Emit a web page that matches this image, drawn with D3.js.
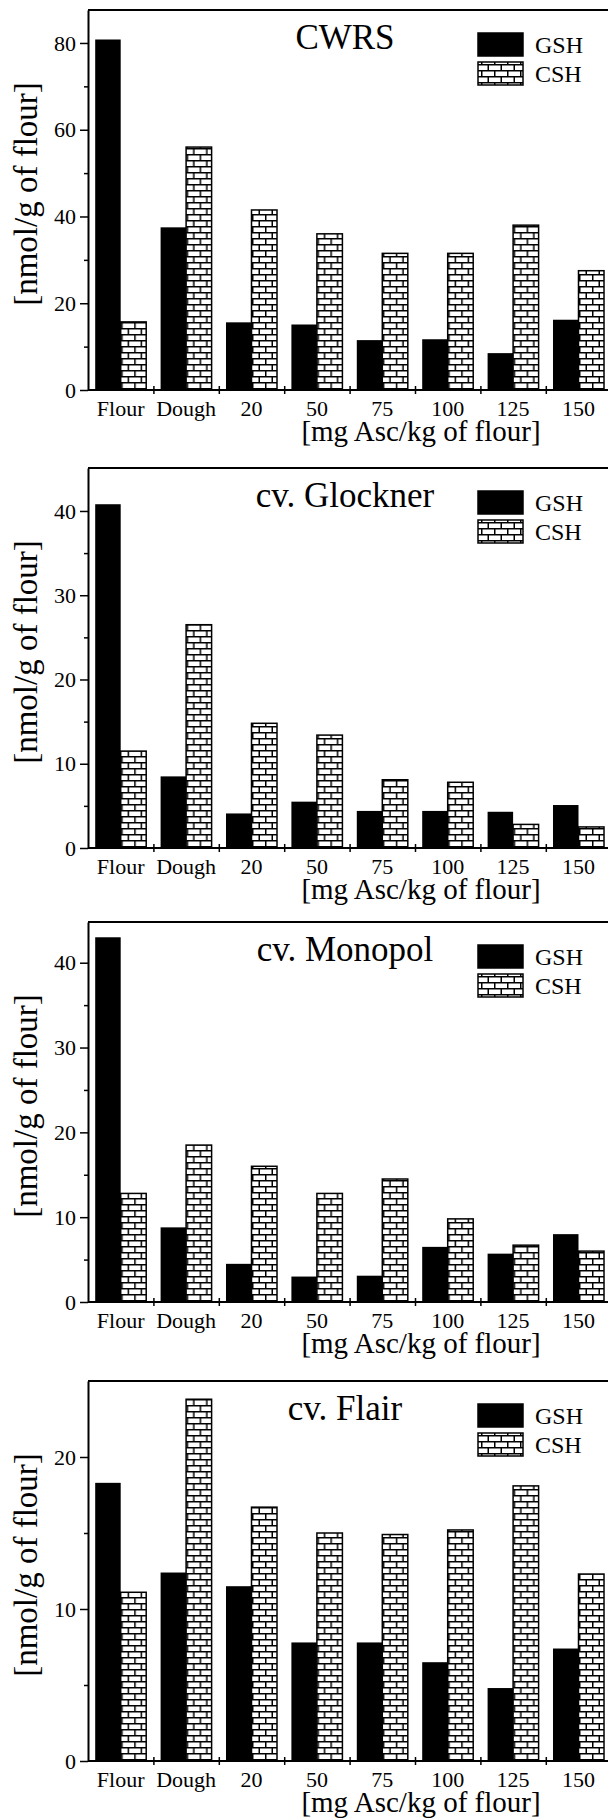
<!DOCTYPE html>
<html>
<head>
<meta charset="utf-8">
<script src="https://cdnjs.cloudflare.com/ajax/libs/d3/7.8.5/d3.min.js"></script>
<style>
  body { margin: 0; background: #fff; }
  svg text { font-family: "Liberation Serif", "Times New Roman", serif; fill: #000; }
</style>
</head>
<body>
<div id="chart"></div>
<script>
// Data
var categories = ["Flour", "Dough", "20", "50", "75", "100", "125", "150"];
var series = ["GSH", "CSH"];
var panelTitles = ["CWRS", "cv. Glockner", "cv. Monopol", "cv. Flair"];

var gshCWRS = [80.8, 37.5, 15.6, 15.1, 11.5, 11.7, 8.5, 16.2];
var cshCWRS = [15.7, 56.0, 41.5, 36.0, 31.5, 31.5, 38.0, 27.5];
var gshGlockner = [40.8, 8.5, 4.1, 5.5, 4.4, 4.4, 4.3, 5.1];
var cshGlockner = [11.5, 26.5, 14.8, 13.4, 8.1, 7.8, 2.8, 2.5];
var gshMonopol = [43.0, 8.8, 4.5, 3.0, 3.1, 6.5, 5.7, 8.0];
var cshMonopol = [12.8, 18.5, 16.0, 12.8, 14.5, 9.8, 6.7, 6.0];
var gshFlair = [18.3, 12.4, 11.5, 7.8, 7.8, 6.5, 4.8, 7.4];
var cshFlair = [11.1, 23.8, 16.7, 15.0, 14.9, 15.2, 18.1, 12.3];

var yMax = [87.6, 45.1, 44.8, 25];
var yMajor = [[0, 20, 40, 60, 80], [0, 10, 20, 30, 40], [0, 10, 20, 30, 40], [0, 10, 20]];
var yMinor = [[10, 30, 50, 70], [5, 15, 25, 35], [5, 15, 25, 35], [5, 15]];

var gshAll = [gshCWRS, gshGlockner, gshMonopol, gshFlair];
var cshAll = [cshCWRS, cshGlockner, cshMonopol, cshFlair];

// Layout
var svgWidth = 608, svgHeight = 1818;
var panelTop = [10, 468, 922, 1381];
var plotHeight = 380;
var xLeft = 88, xRight = 611.2;
var serif = "'Liberation Serif', 'Times New Roman', serif";

var svg = d3.select("#chart").append("svg")
    .attr("width", svgWidth)
    .attr("height", svgHeight);

svg.append("rect").attr("width", svgWidth).attr("height", svgHeight).attr("fill", "#fff");

// brick pattern for CSH
var pat = svg.append("defs").append("pattern")
    .attr("id", "brick")
    .attr("patternUnits", "userSpaceOnUse")
    .attr("width", 13)
    .attr("height", 12);
pat.append("rect").attr("width", 13).attr("height", 12).attr("fill", "#fff");
pat.append("line").attr("x1", 0).attr("x2", 13).attr("y1", 0.75).attr("y2", 0.75);
pat.append("line").attr("x1", 0).attr("x2", 13).attr("y1", 6.75).attr("y2", 6.75);
pat.append("line").attr("x1", 0.75).attr("x2", 0.75).attr("y1", 0).attr("y2", 6);
pat.append("line").attr("x1", 7.25).attr("x2", 7.25).attr("y1", 6).attr("y2", 12);
pat.selectAll("line").attr("stroke", "#000").attr("stroke-width", 1.5);

var x0 = d3.scaleBand().domain(categories).range([xLeft, xRight]).paddingInner(0.22).paddingOuter(0.11);
var x1 = d3.scaleBand().domain(series).range([0, x0.bandwidth()]);
var xEdge = d3.scaleLinear().domain([0, categories.length]).range([xLeft, xRight]);

panelTitles.forEach(function (title, i) {
    var g = svg.append("g").attr("transform", `translate(0, ${panelTop[i]})`);

    var y = d3.scaleLinear().domain([0, yMax[i]]).range([plotHeight, 0]);

    var rows = categories.map(function (c, j) {
        return { cat: c, values: [gshAll[i][j], cshAll[i][j]] };
    });

    // Bars
    var groups = g.selectAll(".grp")
        .data(rows)
        .enter()
        .append("g")
        .attr("transform", d => `translate(${x0(d.cat)}, 0)`);

    groups.selectAll("rect")
        .data(d => d.values.map((v, k) => ({ key: series[k], value: v })))
        .enter()
        .append("rect")
        .attr("x", d => x1(d.key))
        .attr("y", d => y(d.value))
        .attr("width", x1.bandwidth())
        .attr("height", d => plotHeight - y(d.value))
        .attr("fill", d => d.key === "GSH" ? "#000" : "url(#brick)")
        .attr("stroke", "#000")
        .attr("stroke-width", d => d.key === "GSH" ? 0 : 1.5);

    // Top frame line
    g.append("line")
        .attr("x1", xLeft).attr("x2", svgWidth)
        .attr("y1", 0).attr("y2", 0)
        .attr("stroke", "#000").attr("stroke-width", 2);

    // Y axis
    var leftAxis = d3.axisLeft(y).tickValues(yMajor[i]).tickSize(8).tickSizeOuter(0).tickPadding(4);
    var ya = g.append("g").attr("transform", `translate(${xLeft}, 0)`).call(leftAxis)
        .attr("font-family", serif).attr("font-size", 22);
    ya.select(".domain").attr("stroke-width", 2);
    ya.selectAll(".tick line").attr("stroke-width", 1.5);

    var minorAxis = d3.axisLeft(y).tickValues(yMinor[i]).tickSize(4).tickFormat("");
    var ym = g.append("g").attr("transform", `translate(${xLeft}, 0)`).call(minorAxis);
    ym.select(".domain").remove();
    ym.selectAll(".tick line").attr("stroke-width", 1.5);

    // X axis: labels at band centres, ticks at band edges
    var bottomAxis = d3.axisBottom(x0).tickSize(0).tickPadding(10);
    var xa = g.append("g").attr("transform", `translate(0, ${plotHeight})`).call(bottomAxis)
        .attr("font-family", serif).attr("font-size", 22);
    xa.select(".domain").remove();

    var edgeAxis = d3.axisBottom(xEdge).tickValues(d3.range(1, categories.length + 1)).tickSize(4).tickFormat("");
    var xe = g.append("g").attr("transform", `translate(0, ${plotHeight})`).call(edgeAxis);
    xe.select(".domain").attr("d", `M${xLeft},0H${svgWidth}`).attr("stroke-width", 2);
    xe.selectAll(".tick line").attr("y1", -4).attr("y2", 4).attr("stroke-width", 1.5);

    // Axis titles
    g.append("text")
        .attr("x", 421)
        .attr("y", plotHeight + 51)
        .attr("text-anchor", "middle")
        .attr("font-size", "29px")
        .text("[mg Asc/kg of flour]");

    g.append("text")
        .attr("transform", `translate(37, 184) rotate(-90)`)
        .attr("text-anchor", "middle")
        .attr("font-size", "33px")
        .text("[nmol/g of flour]");

    // Panel title
    g.append("text")
        .attr("x", 345)
        .attr("y", 39)
        .attr("text-anchor", "middle")
        .attr("font-size", "35px")
        .text(title);

    // Legend
    series.forEach(function (s, k) {
        g.append("rect")
            .attr("x", 478)
            .attr("y", 23 + k * 29)
            .attr("width", 45)
            .attr("height", 23)
            .attr("fill", s === "GSH" ? "#000" : "url(#brick)")
            .attr("stroke", "#000")
            .attr("stroke-width", 1.5);
        g.append("text")
            .attr("x", 535)
            .attr("y", 43 + k * 29)
            .attr("font-size", "24px")
            .text(s);
    });
});
</script>
</body>
</html>
